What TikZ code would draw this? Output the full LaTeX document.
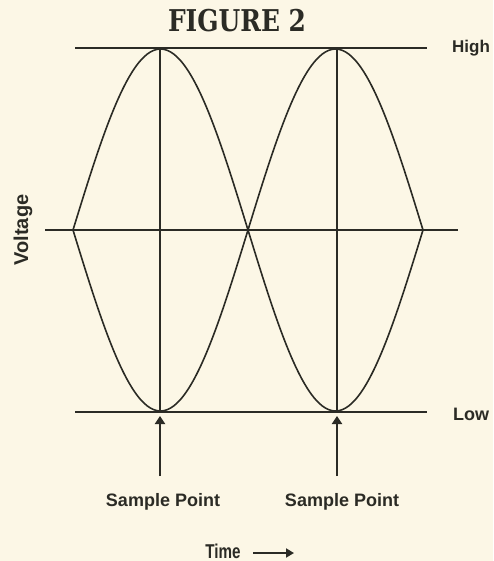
\documentclass[tikz,border=0pt]{standalone}
\usepackage{fontspec}
\setmainfont{Liberation Sans}
\newfontfamily\figfont{DejaVu Serif}
\usetikzlibrary{arrows.meta}
\definecolor{bgc}{HTML}{FCF7E6}
\definecolor{ink}{HTML}{2B2B25}
\tikzset{
  hline/.style={draw=ink, line width=2.6pt},
  vline/.style={draw=ink, line width=2pt},
  wave/.style={draw=ink, line width=1.6pt, smooth},
  uparrow/.style={draw=ink, line width=2pt, -{Triangle[width=10pt,length=8pt]}},
  lbl/.style={text=ink, font=\bfseries\fontsize{18}{20}\selectfont, inner sep=0pt},
}
\begin{document}
\begin{tikzpicture}[x=1pt,y=-1pt]
\fill[bgc] (0,0) rectangle (493,561);
\useasboundingbox (0,0) rectangle (493,561);
% title
\node[text=ink, inner sep=0pt, xscale=0.83, font=\figfont\bfseries\fontsize{30}{32}\selectfont] (title) at (237,21) {FIGURE 2};
% horizontal lines
\coordinate (tl) at (75,48); \coordinate (tr) at (427,48);
\coordinate (ml) at (45,230); \coordinate (mr) at (458,230);
\coordinate (bl) at (75,412); \coordinate (br) at (427,412);
\draw[hline] (tl) -- (tr);
\draw[vline] (ml) -- (mr);
\draw[hline] (bl) -- (br);
% vertical sample lines
\coordinate (v1t) at (160,48); \coordinate (v1b) at (160,412);
\coordinate (v2t) at (337,48); \coordinate (v2b) at (337,412);
\draw[vline] (v1t) -- (v1b);
\draw[vline] (v2t) -- (v2b);
% waves
\draw[wave] plot[domain=73:248, samples=60] (\x, {230-181*sin((\x-73)/175*180)});
\draw[wave] plot[domain=73:248, samples=60] (\x, {230+181*sin((\x-73)/175*180)});
\draw[wave] plot[domain=248:423, samples=60] (\x, {230-181*sin((\x-248)/175*180)});
\draw[wave] plot[domain=248:423, samples=60] (\x, {230+181*sin((\x-248)/175*180)});
% arrows
\coordinate (a1s) at (160,476); \coordinate (a1e) at (160,416);
\coordinate (a2s) at (337,476); \coordinate (a2e) at (337,416);
\draw[uparrow] (a1s) -- (a1e);
\draw[uparrow] (a2s) -- (a2e);
% labels
\node[lbl, anchor=base west, font=\bfseries\fontsize{17}{19}\selectfont] (high) at (452,53) {High};
\node[lbl, anchor=base west] (low) at (453,420) {Low};
\node[lbl, anchor=base] (sp1) at (163,506) {Sample Point};
\node[lbl, anchor=base] (sp2) at (342,506) {Sample Point};
\node[lbl, anchor=base, rotate=90, font=\bfseries\fontsize{20}{22}\selectfont] (volt) at (28,230) {Voltage};
\node[lbl, anchor=base, xscale=0.76, font=\bfseries\fontsize{20}{22}\selectfont] (time) at (223,558) {Time};
\coordinate (ts) at (253,553); \coordinate (te) at (294,553);
\draw[draw=ink, line width=1.8pt, -{Triangle[width=9pt,length=8pt]}] (ts) -- (te);
\end{tikzpicture}
\end{document}
